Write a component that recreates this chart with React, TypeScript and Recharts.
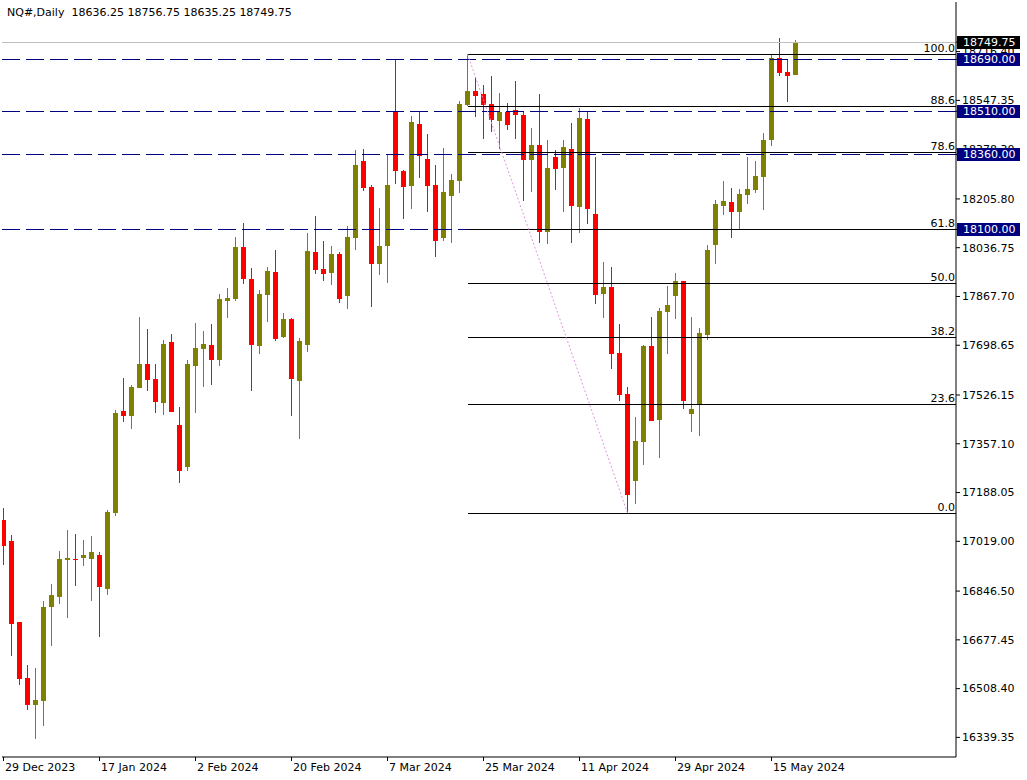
import React from 'react'
import { ComposedChart, Bar, XAxis, YAxis, ReferenceLine } from 'recharts'

const symbol = 'NQ#,Daily'

// every 12th candle gets a date label
const dateTicks = [0, 12, 24, 36, 48, 60, 72, 84, 96]
const dateLabels = [
  '29 Dec 2023', '17 Jan 2024', '2 Feb 2024', '20 Feb 2024', '7 Mar 2024',
  '25 Mar 2024', '11 Apr 2024', '29 Apr 2024', '15 May 2024',
]

const opens = [
  17093, 17020, 16738, 16545, 16453, 16467, 16791, 16826, 16954, 16958,
  16961, 16958, 16972, 16854, 17117, 17471, 17454, 17551, 17634, 17582,
  17500, 17710, 17422, 17278, 17628, 17687, 17700, 17649, 17853, 17859,
  18039, 17929, 17697, 17874, 17953, 17728, 17790, 17576, 17701, 18022,
  17963, 17950, 18015, 17870, 18071, 18337, 18247, 17981, 18044, 18510,
  18303, 18252, 18466, 18344, 18254, 18071, 18217, 18269, 18531, 18580,
  18570, 18535, 18476, 18507, 18515, 18497, 18341, 18393, 18091, 18351,
  18313, 18379, 18179, 18483, 18154, 17877, 17901, 17672, 17530, 17229,
  17364, 17696, 17441, 17815, 17870, 17922, 17461, 17492, 17734, 18046,
  18181, 18195, 18161, 18219, 18237, 18282, 18410, 18694, 18646, 18636.25,
]

const highs = [
  17133, 17041, 16740, 16590, 16580, 16812, 16871, 16985, 17058, 17044,
  17024, 17037, 16982, 17128, 17474, 17585, 17561, 17797, 17755, 17634,
  17717, 17738, 17485, 17648, 17776, 17748, 17772, 17876, 17897, 18074,
  18122, 17966, 17890, 17970, 18029, 17810, 17792, 17724, 18088, 18147,
  18060, 18043, 18022, 18112, 18375, 18379, 18254, 18174, 18358, 18690,
  18306, 18493, 18511, 18431, 18323, 18382, 18292, 18545, 18708, 18628,
  18601, 18632, 18573, 18538, 18615, 18508, 18452, 18570, 18410, 18375,
  18410, 18469, 18521, 18507, 18351, 17987, 17970, 17772, 17554, 17449,
  17698, 17797, 17828, 17904, 17949, 17923, 17797, 17758, 18046, 18202,
  18268, 18244, 18240, 18351, 18337, 18434, 18705, 18764, 18687, 18756.75,
]

const lows = [
  16937, 16623, 16522, 16434, 16335, 16379, 16657, 16802, 16754, 16864,
  16933, 16812, 16688, 16833, 17107, 17434, 17409, 17550, 17541, 17465,
  17458, 17466, 17222, 17264, 17465, 17555, 17562, 17628, 17794, 17853,
  17912, 17541, 17669, 17780, 17714, 17725, 17454, 17375, 17676, 17947,
  17922, 17909, 17846, 17825, 18030, 18234, 17832, 17943, 17915, 18259,
  18137, 18172, 18279, 18162, 18006, 18061, 18054, 18227, 18527, 18491,
  18414, 18439, 18379, 18445, 18414, 18200, 18230, 18053, 18050, 18237,
  18161, 18053, 18089, 18120, 17843, 17794, 17617, 17506, 17117, 17149,
  17285, 17435, 17309, 17669, 17790, 17478, 17398, 17384, 17717, 17980,
  18150, 18070, 18102, 18188, 18226, 18168, 18389, 18632, 18542, 18635.25,
]

const closes = [
  17004, 16734, 16542, 16453, 16469, 16791, 16833, 16958, 16961, 16954,
  16972, 16982, 16861, 17121, 17464, 17454, 17554, 17634, 17579, 17503,
  17703, 17468, 17264, 17634, 17689, 17703, 17649, 17859, 17862, 18039,
  17929, 17701, 17876, 17956, 17721, 17790, 17583, 17713, 18025, 17961,
  17947, 18015, 17860, 18074, 18323, 18245, 17981, 18043, 18254, 18304,
  18248, 18472, 18356, 18252, 18061, 18230, 18271, 18535, 18580, 18564,
  18531, 18479, 18508, 18462, 18497, 18341, 18393, 18091, 18313, 18310,
  18386, 18181, 18486, 18172, 17874, 17901, 17669, 17527, 17181, 17366,
  17696, 17437, 17817, 17838, 17922, 17506, 17478, 17741, 18029, 18188,
  18199, 18161, 18223, 18240, 18285, 18410, 18694, 18642, 18632, 18749.75,
]

const priceTicks = [
  18716.4, 18547.35, 18378.3, 18205.8, 18036.75, 17867.7, 17698.65, 17526.15,
  17357.1, 17188.05, 17019.0, 16846.5, 16677.45, 16508.4, 16339.35,
]

const levels = [18690, 18510, 18360, 18100]
const lastPrice = closes[closes.length - 1]

const fibPcts = [100, 88.6, 78.6, 61.8, 50, 38.2, 23.6, 0]
const fibFrom = 58
const fibTo = 78

const X_DOMAIN: [number, number] = [-0.1875, 119.0625]
const Y_DOMAIN: [number, number] = [16271.4, 18888.4]
const FONT = 'DejaVu Sans'
const UP = '#808000'
const DOWN = '#ff0000'
const NAVY = '#000080'

const candles = opens.map((o, i) => ({
  i,
  open: o,
  high: highs[i],
  low: lows[i],
  close: closes[i],
}))

const fibHigh = highs[fibFrom]
const fibLow = lows[fibTo]
const fibLevels = fibPcts.map(p => ({ pct: p, price: fibLow + ((fibHigh - fibLow) * p) / 100 }))

// tagged prices go last so their boxes sit over the plain labels
const axisTicks = [...priceTicks, ...levels, lastPrice]

function Candle(props: any) {
  const { x, y, width, height, payload } = props
  const { open, close, high, low } = payload
  const c = x + width / 2
  const top = Math.min(y, y + height)
  const h = Math.abs(height)
  const pix = (v: number) => (high === low ? top : top + ((high - v) / (high - low)) * h)
  const color = close >= open ? UP : DOWN
  const bTop = pix(Math.max(open, close))
  const bBot = pix(Math.min(open, close))
  return (
    <g shapeRendering="crispEdges">
      <rect x={c - 0.5} y={top} width={1} height={Math.max(h, 1)} fill={color} />
      <rect x={c - 2.5} y={bTop} width={5} height={Math.max(bBot - bTop, 1)} fill={color} />
    </g>
  )
}

function PriceTick({ x, y, payload }: any) {
  const v = Number(payload.value)
  const tagged = levels.includes(v) || v === lastPrice
  if (tagged) {
    const bg = v === lastPrice ? '#000' : NAVY
    return (
      <g>
        <rect x={x - 5} y={y - 6.5} width={63} height={13} fill={bg} shapeRendering="crispEdges" />
        <text x={x + 1} y={y} dy="0.36em" textAnchor="start" fontSize={11} fontFamily={FONT} fill="#fff">
          {v.toFixed(2)}
        </text>
      </g>
    )
  }
  return (
    <text x={x} y={y} dy="0.35em" textAnchor="start" fontSize={11} fontFamily={FONT} fill="#000">
      {v.toFixed(2)}
    </text>
  )
}

function DateTick({ x, y, payload }: any) {
  const label = dateLabels[dateTicks.indexOf(payload.value)]
  return (
    <text x={x + 1.5} y={y} dy="0.71em" textAnchor="start" fontSize={11} fontFamily={FONT} fill="#000">
      {label}
    </text>
  )
}

function FibLabel({ viewBox, pct }: any) {
  if (!viewBox) return null
  return (
    <text
      x={viewBox.x + viewBox.width - 1}
      y={viewBox.y - 2.5}
      textAnchor="end"
      fontSize={11}
      fontFamily={FONT}
      fill="#000"
    >
      {pct.toFixed(1)}
    </text>
  )
}

export default function App() {
  const title = `${symbol}  ${opens[99].toFixed(2)} ${highs[99].toFixed(2)} ${lows[99].toFixed(2)} ${closes[99].toFixed(2)}`
  return (
    <div style={{ position: 'absolute', left: 0, top: 0, width: 1027, height: 780, background: '#fff' }}>
      <ComposedChart
        width={1027}
        height={780}
        data={candles}
        margin={{ top: 2, right: 0, bottom: 0, left: 2 }}
      >
        <XAxis
          dataKey="i"
          type="number"
          domain={X_DOMAIN}
          allowDataOverflow
          ticks={dateTicks}
          interval={0}
          height={23}
          tickSize={4}
          tickMargin={2}
          tick={<DateTick />}
          axisLine={{ stroke: '#000' }}
          tickLine={{ stroke: '#000' }}
        />
        <XAxis xAxisId="frame" orientation="top" height={0} tick={false} tickLine={false} axisLine={{ stroke: '#000' }} />
        <YAxis
          orientation="right"
          type="number"
          domain={Y_DOMAIN}
          allowDataOverflow
          ticks={axisTicks}
          interval={0}
          width={71}
          tickSize={4}
          tickMargin={2}
          tick={<PriceTick />}
          axisLine={{ stroke: '#000' }}
          tickLine={{ stroke: '#000' }}
        />
        <YAxis yAxisId="frame" orientation="left" width={0} tick={false} tickLine={false} axisLine={{ stroke: '#000' }} />
        <Bar
          dataKey={(d: any) => [d.low, d.high]}
          barSize={5}
          shape={<Candle />}
          isAnimationActive={false}
        />
        {levels.map(l => (
          <ReferenceLine
            key={l}
            y={l}
            stroke={NAVY}
            strokeDasharray="18 6"
            shapeRendering="crispEdges"
            ifOverflow="visible"
          />
        ))}
        {fibLevels.map(f => (
          <ReferenceLine
            key={f.pct}
            segment={[{ x: fibFrom, y: f.price }, { x: X_DOMAIN[1], y: f.price }]}
            stroke="#000"
            shapeRendering="crispEdges"
            ifOverflow="visible"
            label={<FibLabel pct={f.pct} />}
          />
        ))}
        <ReferenceLine
          segment={[{ x: fibFrom, y: fibHigh }, { x: fibTo, y: fibLow }]}
          stroke="#dd99dd"
          strokeDasharray="2 2"
          ifOverflow="visible"
        />
        <ReferenceLine y={lastPrice} stroke="#c0c0c0" shapeRendering="crispEdges" ifOverflow="visible" />
      </ComposedChart>
      <div
        style={{
          position: 'absolute',
          left: 7,
          top: 6,
          fontFamily: FONT,
          fontSize: 11,
          whiteSpace: 'pre',
          color: '#000',
        }}
      >
        {title}
      </div>
    </div>
  )
}
